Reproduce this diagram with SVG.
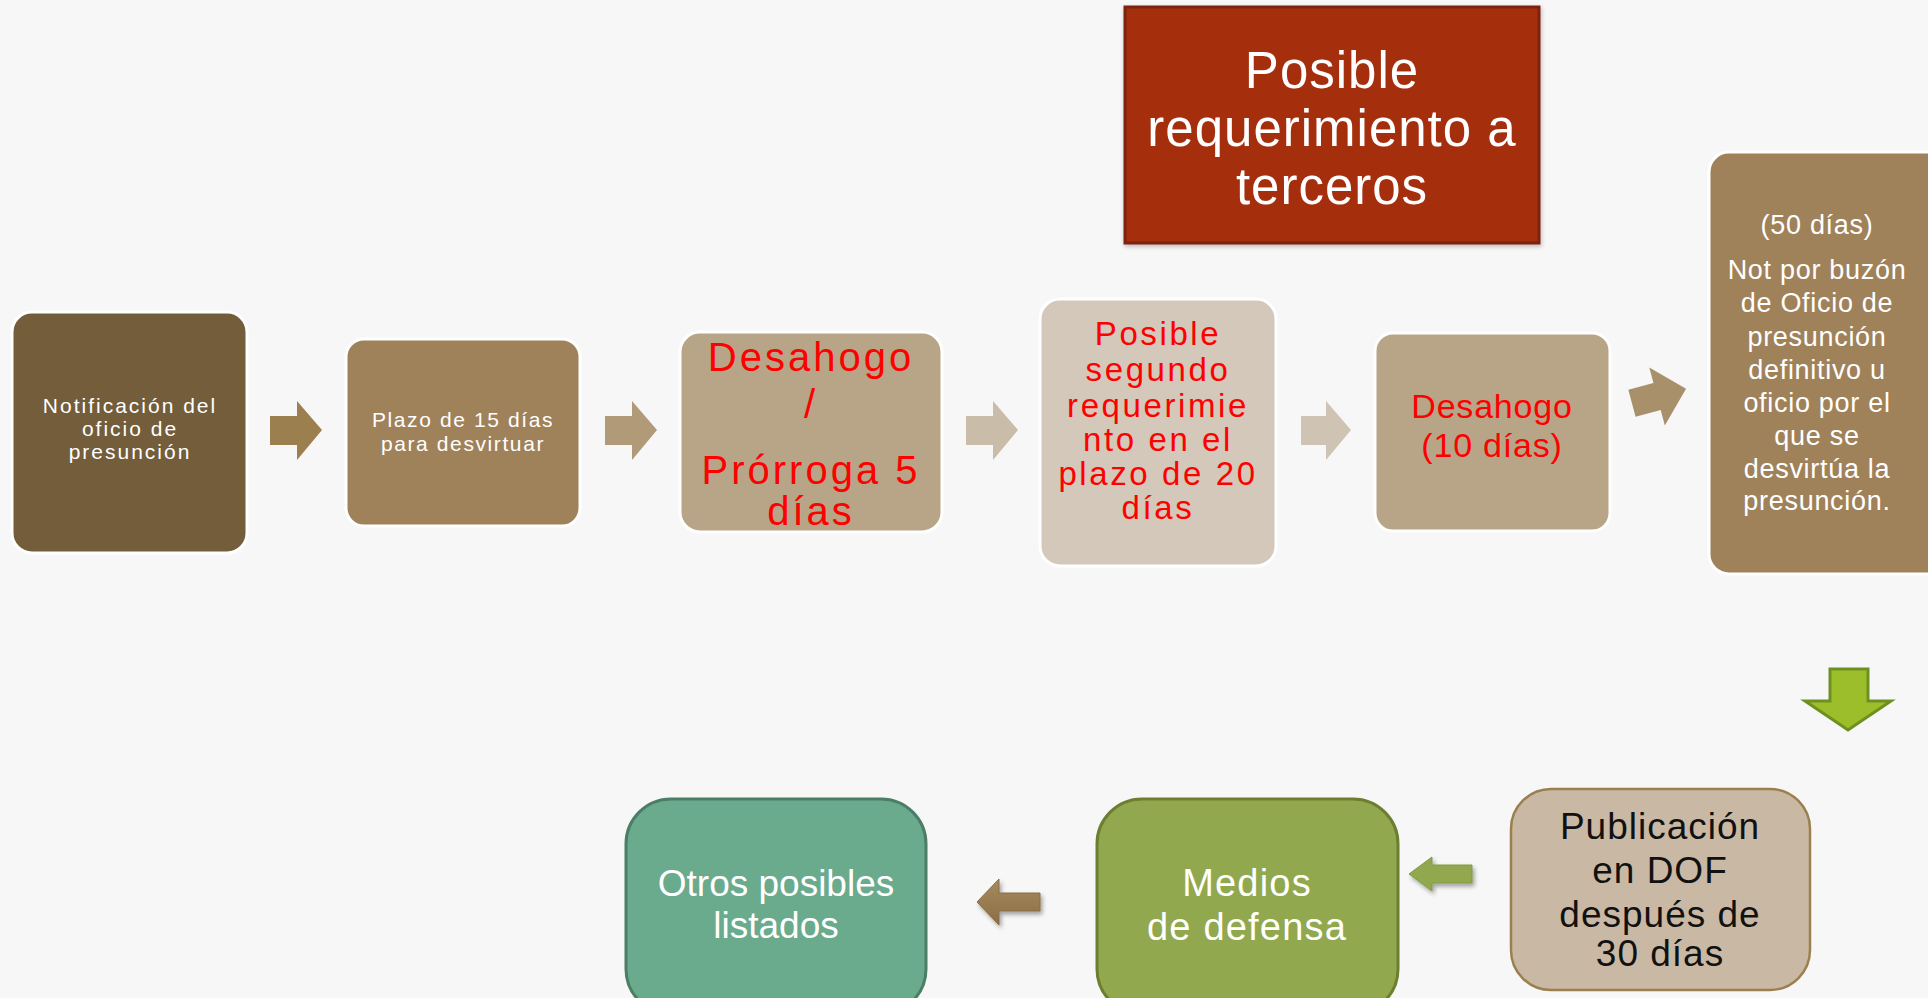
<svg xmlns="http://www.w3.org/2000/svg" width="1928" height="998" viewBox="0 0 1928 998">
<defs>
<style>
.t{font-family:"Liberation Sans",Arial,sans-serif;text-anchor:middle}
.w{fill:#ffffff}
.r{fill:#ff0000}
.k{fill:#111111}
.top{stroke:#ffffff;stroke-width:3}
</style>
<linearGradient id="gb" x1="0" y1="0" x2="0" y2="1">
<stop offset="0" stop-color="#A68A5E"/><stop offset="1" stop-color="#8C6E45"/>
</linearGradient>
<filter id="sh" x="-30%" y="-30%" width="160%" height="160%">
<feDropShadow dx="2" dy="3" stdDeviation="2" flood-color="#000" flood-opacity="0.35"/>
</filter>
<filter id="sh2" x="-10%" y="-10%" width="120%" height="120%">
<feDropShadow dx="1" dy="2" stdDeviation="2" flood-color="#000" flood-opacity="0.25"/>
</filter>
</defs>
<rect width="1928" height="998" fill="#F7F7F7"/>

<g id="n1">
<rect class="top" x="12" y="312" width="235" height="241" rx="20" fill="#735D3A"/>
<text class="t w" font-size="21" letter-spacing="2"><tspan x="130" y="413">Notificación del</tspan><tspan x="130" y="436">oficio de</tspan><tspan x="130" y="459">presunción</tspan></text>
</g>
<g id="n2">
<rect class="top" x="346" y="339" width="234" height="187" rx="18" fill="#A0825A"/>
<text class="t w" font-size="21" letter-spacing="1.6"><tspan x="463" y="427">Plazo de 15 días</tspan><tspan x="463" y="451">para desvirtuar</tspan></text>
</g>
<g id="n3">
<rect class="top" x="680" y="332" width="262" height="200" rx="20" fill="#B8A588"/>
<text class="t r" font-size="40" letter-spacing="3"><tspan x="811" y="371">Desahogo</tspan><tspan x="811" y="418">/</tspan><tspan x="811" y="484">Prórroga 5</tspan><tspan x="811" y="525">días</tspan></text>
</g>
<g id="n4">
<rect class="top" x="1040" y="299" width="236" height="267" rx="20" fill="#D3C8BA"/>
<text class="t r" font-size="33" letter-spacing="2.6"><tspan x="1158" y="345">Posible</tspan><tspan x="1158" y="381">segundo</tspan><tspan x="1158" y="417">requerimie</tspan><tspan x="1158" y="451">nto en el</tspan><tspan x="1158" y="485">plazo de 20</tspan><tspan x="1158" y="519">días</tspan></text>
</g>
<g id="n5">
<rect class="top" x="1375" y="333" width="235" height="198" rx="18" fill="#B8A588"/>
<text class="t r" font-size="34" letter-spacing="0.8"><tspan x="1492" y="418">Desahogo</tspan><tspan x="1492" y="457">(10 días)</tspan></text>
</g>
<g id="n6">
<rect class="top" x="1709" y="152" width="240" height="422" rx="20" fill="#A0825A"/>
<text class="t w" font-size="27" letter-spacing="0.7"><tspan x="1817" y="234">(50 días)</tspan><tspan x="1817" y="279">Not por buzón</tspan><tspan x="1817" y="312">de Oficio de</tspan><tspan x="1817" y="346">presunción</tspan><tspan x="1817" y="379">definitivo u</tspan><tspan x="1817" y="412">oficio por el</tspan><tspan x="1817" y="445">que se</tspan><tspan x="1817" y="478">desvirtúa la</tspan><tspan x="1817" y="510">presunción.</tspan></text>
</g>
<g id="n7">
<rect x="1125" y="7" width="414" height="236" fill="#A52E10" stroke="#7D2411" stroke-width="3" filter="url(#sh2)"/>
<text class="t w" font-size="51" letter-spacing="1"><tspan x="1332" y="88">Posible</tspan><tspan x="1332" y="146">requerimiento a</tspan><tspan x="1332" y="204">terceros</tspan></text>
</g>
<g id="n8">
<rect x="1511" y="789" width="299" height="201" rx="40" fill="#C9B9A4" stroke="#9C7F4F" stroke-width="2.5"/>
<text class="t k" font-size="37" letter-spacing="1"><tspan x="1660" y="839">Publicación</tspan><tspan x="1660" y="883">en DOF</tspan><tspan x="1660" y="927">después de</tspan><tspan x="1660" y="966">30 días</tspan></text>
</g>
<g id="n9">
<rect x="1097" y="799" width="301" height="215" rx="45" fill="#92A84E" stroke="#6E7E30" stroke-width="3"/>
<text class="t w" font-size="38" letter-spacing="1.2"><tspan x="1247" y="896">Medios</tspan><tspan x="1247" y="940">de defensa</tspan></text>
</g>
<g id="n10">
<rect x="626" y="799" width="300" height="215" rx="45" fill="#6AAB8E" stroke="#4C7E66" stroke-width="3"/>
<text class="t w" font-size="37"><tspan x="776" y="896">Otros posibles</tspan><tspan x="776" y="938">listados</tspan></text>
</g>

<g id="connectors">
<polygon points="270,416 297,416 297,401 322,430 297,460 297,445 270,445" fill="#9C7F4F"/>
<polygon points="605,416 632,416 632,401 657,430 632,460 632,445 605,445" fill="#B09A78"/>
<polygon points="966,416 993,416 993,401 1018,430 993,460 993,445 966,445" fill="#C9BCA8"/>
<polygon points="1301,416 1326,416 1326,401 1351,430 1326,460 1326,445 1301,445" fill="#CFC3B4"/>
<polygon points="-28,-14 -2,-14 -2,-30 28,0 -2,30 -2,14 -28,14" fill="#A8906A" transform="translate(1659,396) rotate(-15)"/>
<polygon points="1830,669 1868,669 1868,701 1891,701 1848,730 1805,701 1830,701" fill="#9BBE2A" stroke="#6E9020" stroke-width="3"/>
<polygon points="1472,865 1432,865 1432,857 1409,874 1432,891 1432,883 1472,883" fill="#92A850" stroke="#7F9A45" stroke-width="1" filter="url(#sh)"/>
<polygon points="1040,893 999,893 999,879 977,902 999,925 999,911 1040,911" fill="url(#gb)" stroke="#8A6D42" stroke-width="1" filter="url(#sh)"/>
</g>
</svg>
